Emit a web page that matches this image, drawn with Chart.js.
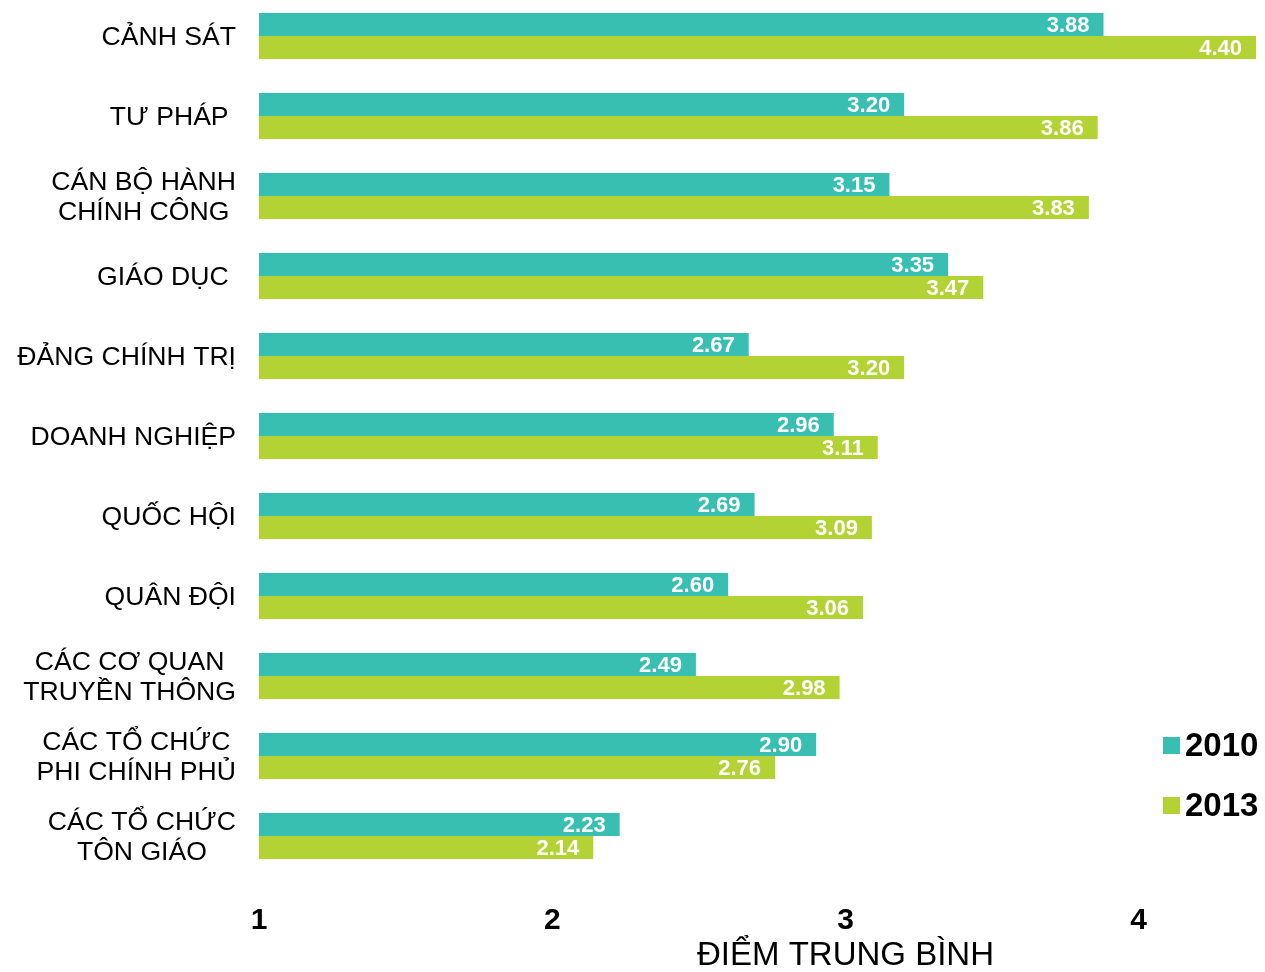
<!DOCTYPE html>
<html>
<head>
<meta charset="utf-8">
<script src="https://cdn.jsdelivr.net/npm/chart.js@4"></script>
<style>
  html, body { margin: 0; padding: 0; background: #fff; overflow: hidden; }
  #wrap { position: absolute; left: 0; top: -4px; width: 1265px; height: 976px; }
</style>
</head>
<body>
<div id="wrap"><canvas id="grafico" width="1265" height="976"></canvas></div>
<script>
const categorias = [
  ["CẢNH SÁT"],
  ["TƯ PHÁP "],
  ["CÁN BỘ HÀNH", "CHÍNH CÔNG"],
  ["GIÁO DỤC "],
  ["ĐẢNG CHÍNH TRỊ"],
  ["DOANH NGHIỆP"],
  ["QUỐC HỘI"],
  ["QUÂN ĐỘI"],
  ["CÁC CƠ QUAN", "TRUYỀN THÔNG"],
  ["CÁC TỔ CHỨC", "PHI CHÍNH PHỦ"],
  ["CÁC TỔ CHỨC", "TÔN GIÁO"],
];
const diem2010 = [3.88, 3.20, 3.15, 3.35, 2.67, 2.96, 2.69, 2.60, 2.49, 2.90, 2.23];
const diem2013 = [4.40, 3.86, 3.83, 3.47, 3.20, 3.11, 3.09, 3.06, 2.98, 2.76, 2.14];
const tickMarcas = [1, 2, 3, 4];
const tituloEixo = "ĐIỂM TRUNG BÌNH";

const fonte = '"Liberation Sans", Arial, sans-serif';
const corTeal = "#39bfb1";
const corVerde = "#b3d335";

// rótulos, valores, título e legenda desenhados à mão
const extras = {
  id: "extras",
  afterDatasetsDraw(chart) {
    const ctx = chart.ctx;
    ctx.save();
    ctx.font = "bold 22px " + fonte;
    ctx.fillStyle = "#fff";
    ctx.textAlign = "right";
    ctx.textBaseline = "middle";
    chart.data.datasets.forEach((ds, i) => {
      chart.getDatasetMeta(i).data.forEach((bar, j) => {
        ctx.fillText(ds.data[j].toFixed(2), bar.x - 14, bar.y + 1);
      });
    });
    ctx.restore();
  },
  afterDraw(chart) {
    const ctx = chart.ctx;
    const y = chart.scales.y;
    const x = chart.scales.x;
    ctx.save();
    ctx.fillStyle = "#000";
    ctx.textBaseline = "middle";
    ctx.textAlign = "center";
    ctx.font = "26.6px " + fonte;
    categorias.forEach((linhas, i) => {
      const cy = y.getPixelForTick(i) + 1.5;
      const larg = Math.max(...linhas.map(l => ctx.measureText(l).width));
      const cx = 236 - larg / 2;
      linhas.forEach((l, k) => {
        const ly = cy + (k - (linhas.length - 1) / 2) * 30;
        ctx.fillText(l, cx, ly);
      });
    });

    ctx.font = "33px " + fonte;
    ctx.fillText(tituloEixo, x.getPixelForValue(3), 960);

    // legenda
    const itens = [["2010", corTeal, 750], ["2013", corVerde, 810]];
    ctx.textAlign = "left";
    ctx.font = "bold 33px " + fonte;
    itens.forEach(([txt, cor, ly]) => {
      ctx.fillStyle = cor;
      ctx.fillRect(1163, ly - 9, 17, 17);
      ctx.fillStyle = "#000";
      ctx.fillText(txt, 1185, ly + 1);
    });
    ctx.restore();
  },
};

new Chart(document.getElementById("grafico"), {
  type: "bar",
  data: {
    labels: categorias,
    datasets: [
      { label: "2010", data: diem2010, backgroundColor: corTeal, borderWidth: 0 },
      { label: "2013", data: diem2013, backgroundColor: corVerde, borderWidth: 0 },
    ],
  },
  options: {
    indexAxis: "y",
    responsive: false,
    animation: false,
    devicePixelRatio: 1,
    layout: { padding: { left: 259, right: 9, top: 0, bottom: 0 } },
    datasets: { bar: { categoryPercentage: 0.575, barPercentage: 1 } },
    plugins: { legend: { display: false }, tooltip: { enabled: false } },
    scales: {
      x: {
        min: 1,
        max: 4.4,
        grid: { display: false, drawTicks: false },
        border: { display: false },
        afterBuildTicks(scale) {
          scale.ticks = tickMarcas.map(v => ({ value: v }));
        },
        afterFit(scale) {
          scale.height = 96;
        },
        ticks: {
          padding: 27,
          color: "#000",
          font: { family: fonte, size: 30, weight: "bold" },
        },
      },
      y: {
        display: false,
      },
    },
  },
  plugins: [extras],
});
</script>
</body>
</html>
